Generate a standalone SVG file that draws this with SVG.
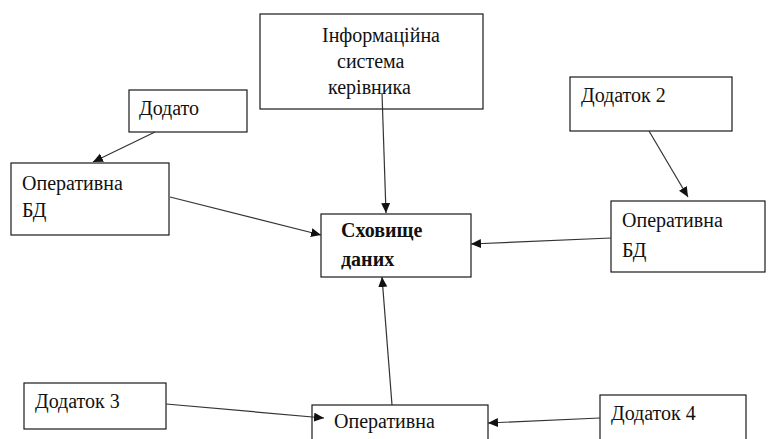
<svg xmlns="http://www.w3.org/2000/svg" width="769" height="439" viewBox="0 0 769 439">
  <style>
    .box { fill: #ffffff; stroke: #1a1a1a; stroke-width: 1.2; }
    .lbl { font-family: "Liberation Serif", "Times New Roman", Times, "DejaVu Serif", serif; font-size: 20px; fill: #111111; }
    .bold { font-weight: bold; }
    .edge { stroke: #333333; stroke-width: 1.2; fill: none; marker-end: url(#arrow); }
  </style>
  <defs>
    <marker id="arrow" markerUnits="userSpaceOnUse" markerWidth="12" markerHeight="10" refX="10" refY="4.5" orient="auto">
      <path d="M0,0 L10,4.5 L0,9 Z" fill="#111111"/>
    </marker>
  </defs>
  <rect width="769" height="439" fill="#ffffff"/>

  <g id="is-kerivnyka">
    <rect class="box" x="260" y="14" width="223" height="95"/>
    <text class="lbl" x="322" y="42">Інформаційна</text>
    <text class="lbl" x="337" y="68">система</text>
    <text class="lbl" x="328" y="94">керівника</text>
  </g>

  <g id="dodato">
    <rect class="box" x="129" y="90" width="118" height="42"/>
    <text class="lbl" x="139" y="115">Додато</text>
  </g>

  <g id="op-bd-left">
    <rect class="box" x="11" y="163" width="158" height="72"/>
    <text class="lbl" x="22" y="190">Оперативна</text>
    <text class="lbl" x="22" y="217">БД</text>
  </g>

  <g id="dodatok-2">
    <rect class="box" x="570" y="77" width="162" height="54"/>
    <text class="lbl" x="581" y="102">Додаток 2</text>
  </g>

  <g id="op-bd-right">
    <rect class="box" x="611" y="201" width="154" height="71"/>
    <text class="lbl" x="622" y="227">Оперативна</text>
    <text class="lbl" x="622" y="257">БД</text>
  </g>

  <g id="skhovyshche">
    <rect class="box" x="321" y="214" width="150" height="63"/>
    <text class="lbl bold" x="341" y="237">Сховище</text>
    <text class="lbl bold" x="341" y="266">даних</text>
  </g>

  <g id="dodatok-3">
    <rect class="box" x="24" y="383" width="142" height="46"/>
    <text class="lbl" x="35" y="408">Додаток 3</text>
  </g>

  <g id="dodatok-4">
    <rect class="box" x="600" y="395" width="146" height="50"/>
    <text class="lbl" x="611" y="420">Додаток 4</text>
  </g>

  <g id="op-bottom">
    <rect class="box" x="312" y="405" width="176" height="40"/>
    <text class="lbl" x="334" y="428">Оперативна</text>
  </g>

  <g id="connectors">
    <line class="edge" x1="382" y1="93" x2="386" y2="213"/>
    <line class="edge" x1="155" y1="132" x2="93" y2="162"/>
    <line class="edge" x1="170" y1="197" x2="321" y2="235"/>
    <line class="edge" x1="649" y1="131" x2="688" y2="197"/>
    <line class="edge" x1="611" y1="238" x2="471" y2="244"/>
    <line class="edge" x1="392" y1="405" x2="382" y2="277"/>
    <line class="edge" x1="166" y1="404" x2="324" y2="418"/>
    <line class="edge" x1="600" y1="418" x2="488" y2="423"/>
  </g>
</svg>
